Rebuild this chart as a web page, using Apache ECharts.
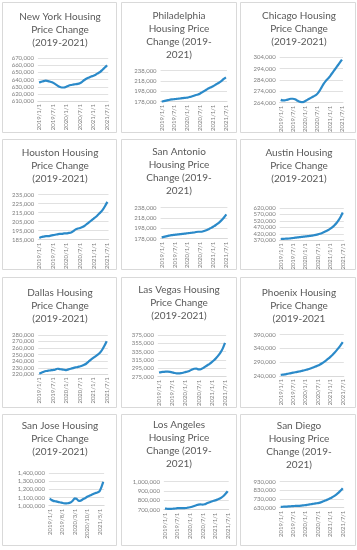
<!DOCTYPE html>
<html><head><meta charset="utf-8">
<script src="https://cdn.jsdelivr.net/npm/echarts@6/dist/echarts.min.js"></script>
<style>html,body{margin:0;padding:0;background:#fff;}#c{width:357px;height:550px;}</style>
</head><body><div id="c"></div>
<script>
const months = ['2019/1/1','2019/2/1','2019/3/1','2019/4/1','2019/5/1','2019/6/1','2019/7/1','2019/8/1','2019/9/1','2019/10/1','2019/11/1','2019/12/1',
  '2020/1/1','2020/2/1','2020/3/1','2020/4/1','2020/5/1','2020/6/1','2020/7/1','2020/8/1','2020/9/1','2020/10/1','2020/11/1','2020/12/1',
  '2021/1/1','2021/2/1','2021/3/1','2021/4/1','2021/5/1','2021/6/1','2021/7/1'];

const titles = [
  'New York Housing\nPrice Change\n(2019-2021)',
  'Philadelphia\nHousing Price\nChange (2019-\n2021)',
  'Chicago Housing\nPrice Change\n(2019-2021)',
  'Houston Housing\nPrice Change\n(2019-2021)',
  'San Antonio\nHousing Price\nChange (2019-\n2021)',
  'Austin Housing\nPrice Change\n(2019-2021)',
  'Dallas Housing\nPrice Change\n(2019-2021)',
  'Las Vegas Housing\nPrice Change\n(2019-2021)',
  'Phoenix Housing\nPrice Change\n(2019-2021',
  'San Jose Housing\nPrice Change\n(2019-2021)',
  'Los Angeles\nHousing Price\nChange (2019-\n2021)',
  'San Diego\nHousing Price\nChange (2019-\n2021)'
];

// values in thousands of dollars
const newYork = [636,637,638,638.5,638,637,636,634,632,630,629,629,630,631.5,632.5,633,633.5,634,635,637,639.5,641.5,643,644.5,645.5,647,649,651,654,657,660];
const philadelphia = [178,179,180,181,182,182.5,183,183.5,184,184.5,185,185.5,186,187,188,189.5,191,192,194,196.5,199,201.5,204,206,208,210.5,213,215.5,218.5,222,225];
const chicago = [266.5,266,266,266.5,267,267.5,267.5,267,266,265,264.5,264.5,265.5,266.5,267.5,268.5,269.5,270.5,272,274.5,277.5,280.5,283,285,287,289.5,292,294.5,297,299.5,302];
const houston = [187,188,188.5,189,189,189.5,190,190.5,191,191.5,191.5,192,192,192.5,193,194.5,196.5,197.5,198,199,200.5,202.5,204.5,206.5,208.5,210.5,213,215.5,218.5,222.5,227];
const sanAntonio = [180.5,181.5,182.5,183.5,184.5,185,185.5,186,186.5,187,187.5,188,188.5,189,189.5,190,191,191.5,191.5,192,193.5,195,197,199,201.5,204,207,210.5,214.5,219.5,225];
const austin = [380,381,382,383,384,386,388,390,392,394,396,398,400,402,404,406,409,412,416,421,427,434,442,450,460,472,487,504,526,553,585];
const dallas = [221,222.5,224,225,225.5,226,226.5,227,228.5,228,227.5,227,226.5,227.5,228.5,229.5,230.5,231,232,233,234.5,236.5,239.5,242.5,245,247.5,250,253,257.5,263.5,270.5];
const lasVegas = [285,286,286.5,287,287,286.5,285.5,284,283,283,283.5,284.5,286,287.5,289.5,292,294,294.5,292.5,293,295.5,299,302.5,306,310,314.5,320,326,333.5,343,356];
const phoenix = [244,245,246,247.5,249,250.5,252,253.5,255,256.5,258,260,262,264,266.5,269,272,275,278,282,286.5,291.5,297,303,309.5,316.5,324.5,333,342,352,363];
const sanJose = [1090,1070,1060,1055,1050,1045,1040,1035,1030,1028,1030,1035,1045,1065,1090,1085,1065,1060,1070,1085,1095,1110,1120,1130,1140,1150,1158,1165,1180,1230,1295];
const losAngeles = [712,710,708,709,711,713,716,717,716,716,718,722,726,732,740,748,755,757,754,758,768,778,786,793,800,808,817,830,847,870,898];
const sanDiego = [640,641,642,643,645,647,649,650,651,652,654,657,660,664,668,672,676,680,683,688,697,707,717,727,738,752,767,784,804,828,855];

// y-axis ticks (thousands): min, max, step
const yMin = [610,178,264,185,178,370,220,275,240,1000,700,630];
const yMax = [670,238,304,235,238,620,280,375,390,1400,1000,930];
const yStep = [10,20,10,10,20,50,10,20,50,100,100,100];
const labelEvery = [5,5,5,5,5,5,5,5,5,6,5,5];

const seriesData = [newYork, philadelphia, chicago, houston, sanAntonio, austin, dallas, lasVegas, phoenix, sanJose, losAngeles, sanDiego];

// layout
const panels = [[2,2,114,130],[121,2,115,130],[240,2,115,130],
  [2,139,114,130],[121,139,115,130],[240,139,115,130],
  [2,277,114,130],[121,277,115,130],[240,277,115,130],
  [2,414,114,131],[121,414,115,131],[240,414,115,131]];
const titlePos = [[60,10.2],[179,9.2],[299,9.5],[60,146.5],[179,145.5],[299,146.5],[60,285.8],[179,283.5],[299,285.8],[60,419.5],[179,418],[299,419.5]];
const grids = [[37.9,58.3,70.3,42.7],[160.6,70.7,66.4,31],[279.7,57.3,63.3,45.4],
  [38.2,194.7,70.3,45],[160.6,207.7,66.8,31],[279.7,208,64.1,32.3],
  [38.2,335,69.6,39.3],[157.9,335,68.2,41.7],[279.7,334.7,64.1,41.3],
  [48.9,473.3,55.2,32.4],[163.9,481.7,64.8,28],[279.7,481.7,64.1,26]];

const FONT = 'Lato';
const LABEL = '#7f7f7f';
const GRID = '#d9d9d9';
const LINE = '#2B8AC9';

const option = {
  animation: false,
  backgroundColor: '#fff',
  title: [], grid: [], xAxis: [], yAxis: [], series: [],
  graphic: panels.map(p => ({
    type: 'rect', silent: true,
    shape: {x: p[0] + 0.5, y: p[1] + 0.5, width: p[2], height: p[3]},
    style: {fill: 'none', stroke: GRID, lineWidth: 1}
  }))
};

seriesData.forEach((vals, i) => {
  const g = grids[i];
  option.title.push({
    text: titles[i], left: titlePos[i][0], top: titlePos[i][1], textAlign: 'center', padding: 0,
    textStyle: {fontFamily: FONT, fontSize: 10, lineHeight: 13, fontWeight: 'normal', color: '#595959'}
  });
  option.grid.push({left: g[0], top: g[1], width: g[2], height: g[3], containLabel: false});
  option.xAxis.push({
    type: 'category', gridIndex: i, data: months, boundaryGap: true,
    axisTick: {show: false},
    axisLine: {lineStyle: {color: GRID, width: 1}},
    axisLabel: {rotate: 90, interval: labelEvery[i], fontSize: 6, fontFamily: FONT, color: LABEL, margin: 3, hideOverlap: false}
  });
  option.yAxis.push({
    type: 'value', gridIndex: i, min: yMin[i] * 1000, max: yMax[i] * 1000, interval: yStep[i] * 1000,
    axisLine: {show: false}, axisTick: {show: false},
    splitLine: {lineStyle: {color: GRID, width: 0.8}},
    axisLabel: {fontSize: 6, fontFamily: FONT, color: LABEL, margin: 4,
      formatter: v => Math.round(v).toLocaleString('en-US')}
  });
  option.series.push({
    type: 'line', xAxisIndex: i, yAxisIndex: i, data: vals.map(v => v * 1000),
    smooth: 0.3, symbol: 'none', lineStyle: {color: LINE, width: 2.2}
  });
});

echarts.init(document.getElementById('c'), null, {renderer: 'canvas'}).setOption(option);
</script>
</body></html>
